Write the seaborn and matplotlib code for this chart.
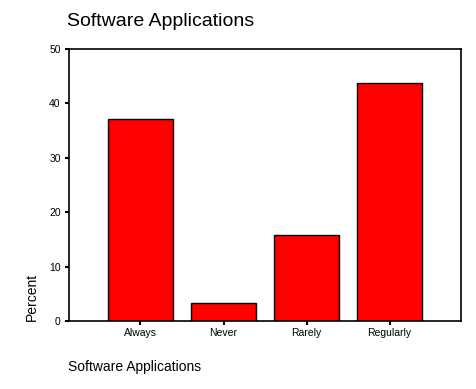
import matplotlib
matplotlib.use("Agg")
import matplotlib.pyplot as plt
import seaborn as sns
import pandas as pd

categories = ["Always", "Never", "Rarely", "Regularly"]
percent = [37.1, 3.3, 15.8, 43.8]
yticks = [0, 10, 20, 30, 40, 50]

sns.set_style("white")
plt.rcParams['font.family'] = ['Liberation Sans', 'DejaVu Sans']
plt.rcParams['text.color'] = 'black'

df = pd.DataFrame({"cat": categories, "pct": percent})
fig = plt.figure(figsize=(4.76, 3.89), dpi=100)
ax = fig.add_axes([69/476, 1-321/389, (461-69)/476, (321-49)/389])
sns.barplot(data=df, x="cat", y="pct", color="#ff0000", edgecolor="black",
            linewidth=1.0, width=0.78, saturation=1, ax=ax)
ax.set_xlim(-0.861, 3.86)
ax.set_ylim(0, 50)
ax.set_yticks(yticks)
ax.set_yticklabels([str(t) for t in yticks])
for s in ax.spines.values():
    s.set_visible(True)
    s.set_color("black")
    s.set_linewidth(1.2)
ax.tick_params(axis="both", which="both", direction="out", length=3, width=1.5,
               labelsize=7.5, colors="black", labelcolor="black", left=True, bottom=True)
ax.tick_params(axis="y", pad=3)
ax.tick_params(axis="x", pad=2)
ax.set_xlabel("")
ax.set_ylabel("")
fig.text(67/476, 1-22/389, "Software Applications", fontsize=14, color="black", ha="left", va="center")
fig.text(32/476, 1-297/389, "Percent", fontsize=10, color="black", rotation=90, ha="center", va="center")
fig.text(68/476, 1-367/389, "Software Applications", fontsize=10, color="black", ha="left", va="center")
fig.savefig("out.png", dpi=100)
